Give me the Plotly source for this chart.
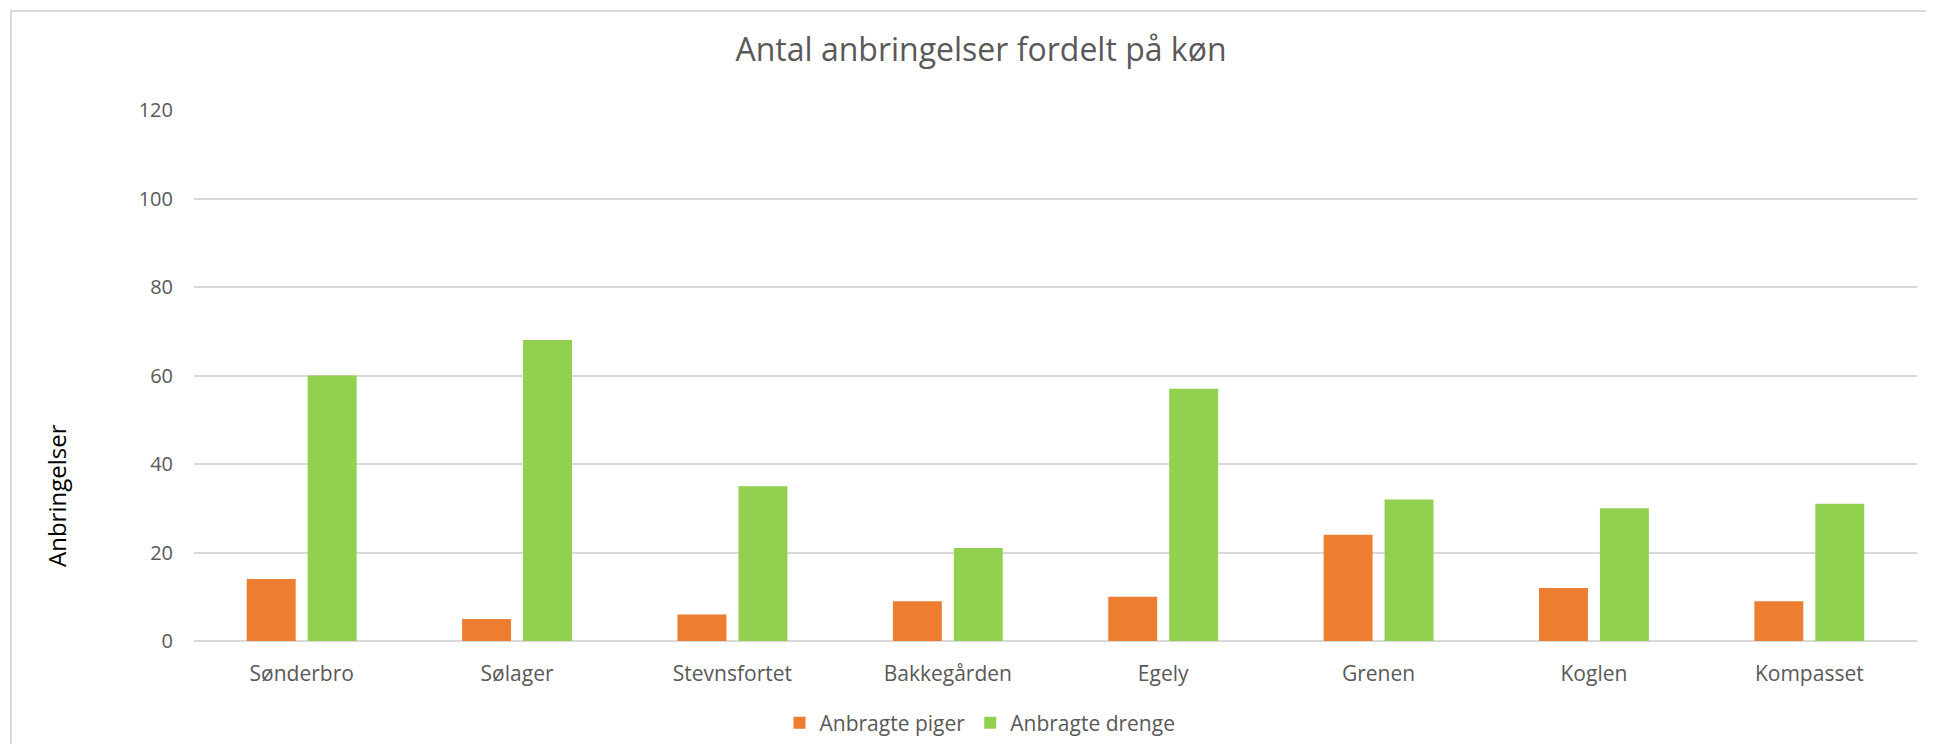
import plotly.graph_objects as go

categories = ["Sønderbro", "Sølager", "Stevnsfortet", "Bakkegården", "Egely", "Grenen", "Koglen", "Kompasset"]
piger = [14, 5, 6, 9, 10, 24, 12, 9]
drenge = [60, 68, 35, 21, 57, 32, 30, 31]
series_names = ["Anbragte piger", "Anbragte drenge"]
y_ticks = [0, 20, 40, 60, 80, 100, 120]

OFF = 8  # page body margin
W, H = 1934 - 2 * OFF, 752 - 2 * OFF
# target positions in screenshot pixels
PLOT_L, PLOT_R, PLOT_T, PLOT_B = 194, 1917, 110, 641
L = PLOT_L - OFF
R = W - (PLOT_R - OFF)
T = PLOT_T - OFF
B = H - (PLOT_B - OFF)
pw = W - L - R
ph = H - T - B

def px_to_paper_x(px):
    return (px - PLOT_L) / pw

def px_to_paper_y(py):
    return (PLOT_B - py) / ph

FONT = "Open Sans"
GREY = "#595959"

fig = go.Figure()
fig.add_trace(go.Bar(x=categories, y=piger, name=series_names[0], marker=dict(color="#ED7D31", line=dict(width=0))))
fig.add_trace(go.Bar(x=categories, y=drenge, name=series_names[1], marker=dict(color="#92D050", line=dict(width=0))))

fig.update_layout(
    width=W, height=H,
    margin=dict(l=L, r=R, t=T, b=B, autoexpand=False),
    paper_bgcolor="white", plot_bgcolor="white",
    barmode="group", bargap=0.434, bargroupgap=0.197,
    font=dict(family=FONT, color=GREY),
    title=dict(text="Antal anbringelser fordelt på køn", x=(981 - OFF) / W, xref="container", xanchor="center",
               y=1 - (50 - OFF) / H, yref="container", yanchor="middle",
               font=dict(family=FONT, size=32, color=GREY)),
    legend=dict(orientation="h", x=px_to_paper_x(980), xanchor="center", y=px_to_paper_y(723), yanchor="middle",
                font=dict(family=FONT, size=21, color=GREY), traceorder="normal", itemwidth=30),
    xaxis=dict(showgrid=False, showline=False, zeroline=False, ticks="",
               tickfont=dict(family=FONT, size=21, color=GREY), ticklabelstandoff=18),
    yaxis=dict(range=[0, 120], tickvals=y_ticks, showgrid=True, gridcolor="#D9D9D9", gridwidth=1.6,
               zeroline=True, zerolinecolor="#D9D9D9", zerolinewidth=1.6, showline=False, ticks="",
               tickfont=dict(family=FONT, size=20, color=GREY), ticklabelstandoff=20),
    annotations=[dict(text="Anbringelser", textangle=-90, xref="paper", yref="paper",
                      x=px_to_paper_x(56), y=px_to_paper_y(496), xanchor="center", yanchor="middle",
                      showarrow=False, font=dict(family=FONT, size=24, color="#000000"))],
    shapes=[dict(type="rect", xref="paper", yref="paper",
                 x0=px_to_paper_x(11), y0=px_to_paper_y(800), x1=px_to_paper_x(2000), y1=px_to_paper_y(11),
                 line=dict(color="#D9D9D9", width=2), fillcolor="rgba(0,0,0,0)", layer="below")],
)

fig.write_html("out.html")
